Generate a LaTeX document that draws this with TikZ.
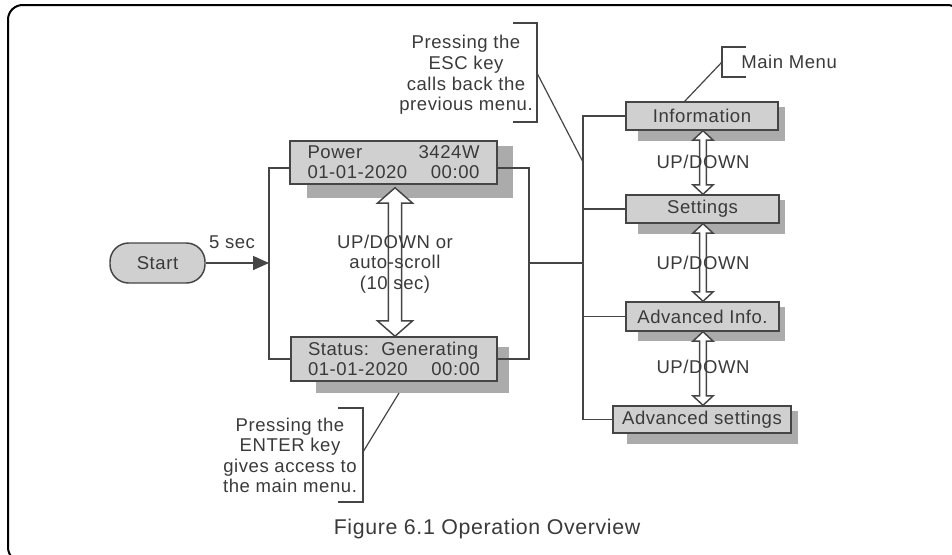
\documentclass[tikz,border=0pt]{standalone}
\usepackage{fontspec}
\setmainfont{Liberation Sans}[LetterSpace=3]
\usetikzlibrary{calc,arrows.meta}
\definecolor{ink}{HTML}{3A3A3A}
\definecolor{lin}{HTML}{454545}
\definecolor{boxfill}{HTML}{D0D0D0}
\definecolor{shadowc}{HTML}{ABABAB}
\tikzset{
  conn/.style={draw=lin, line width=1.1pt},
  menubox/.style={draw=lin, line width=1.1pt, fill=boxfill, text=ink, inner sep=0pt, font=\fontsize{13.9}{15}\selectfont},
  shade/.style={fill=shadowc, draw=none},
  lbl/.style={text=ink, inner sep=0pt, font=\fontsize{13.9}{15.4}\selectfont, align=center},
  dbl/.style={draw=lin, line width=1.1pt, fill=white, line join=miter},
}
% double-headed hollow arrow: #1 top point, #2 bottom point, #3 shaft half, #4 head half, #5 head length
\newcommand{\dblarrow}[5]{%
  \path[dbl] let \p1=#1, \p2=#2 in
   (\x1,\y1) -- (\x1+#4,\y1-#5) -- (\x1+#3,\y1-#5) -- (\x1+#3,\y2+#5) -- (\x1+#4,\y2+#5)
   -- (\x1,\y2) -- (\x1-#4,\y2+#5) -- (\x1-#3,\y2+#5) -- (\x1-#3,\y1-#5) -- (\x1-#4,\y1-#5) -- cycle;}
\begin{document}
\begin{tikzpicture}[x=0.75pt,y=-0.75pt]
\useasboundingbox (0,0) rectangle (952,554);
% frame
\draw[black, line width=1.5pt, rounded corners=11pt] (8,5) rectangle (962,562);

% display boxes (positions)
\coordinate (pwc) at (393.5,162.5);
\coordinate (stc) at (394,359);
% shadows first
\path[shade] ($(pwc)+(-86.5,-16.5)$) rectangle ($(pwc)+(119.5,35.5)$);
\path[shade] ($(stc)+(-78,-12)$) rectangle ($(stc)+(115,34)$);
\path[shade] (638,107) rectangle (785,141);
\path[shade] (638,200) rectangle (785,234);
\path[shade] (638,307) rectangle (785,341);
\path[shade] (627,411) rectangle (798,444);

\node[menubox, minimum width=155.25pt, minimum height=32.25pt, text width=129pt, align=left] (pw) at (pwc)
  {Power\hfill 3424W\\01-01-2020\hfill 00:00};
\node[menubox, minimum width=154.5pt, minimum height=33pt, text width=129pt, align=left] (st) at (stc)
  {Status:\ \ Generating\\01-01-2020\hfill 00:00};

\node[menubox, minimum width=114pt, minimum height=21pt] (info) at (702,116) {Information};
\node[menubox, minimum width=114.75pt, minimum height=21pt] (set) at (702.5,209) {Settings};
\node[menubox, minimum width=114.75pt, minimum height=21.75pt] (ainfo) at (702.5,316.5) {Advanced Info.};
\node[menubox, minimum width=133.5pt, minimum height=20.25pt] (aset) at (702,419.5) {Advanced settings};

% start
\node[menubox, minimum width=71.25pt, minimum height=30pt, rounded corners=14pt] (start) at (157.5,263) {Start};
\coordinate (j1) at (269,263);
\draw[conn, -{Triangle[length=12pt,width=10.5pt]}, draw=lin, fill=lin] (start) -- (j1);
\node[lbl] (fivesec) at (232,242) {5 sec};

% left bracket
\draw[conn] ([yshift=-4pt]pw.west) -| (j1) |- (st.west);
% right junction
\coordinate (rj) at (529,263);
\coordinate (mj) at (583,263);
\draw[conn] ([yshift=-4pt]pw.east) -| (rj) |- (st.east);
\draw[conn] (rj) -- (mj);
% menu bus
\draw[conn] (info.west) -- (info.west -| mj) -- (aset.west -| mj) -- (aset.west);
\draw[conn] (set.west -| mj) -- (set.west);
\draw[conn] (ainfo.west -| mj) -- (ainfo.west);

% big double arrow
\dblarrow{($(pw.south)+(1.5,3)$)}{($(st.north)+(1,0)$)}{4.9pt}{13.1pt}{11.5pt}
\node[lbl] (updown0) at (395,264) {UP/DOWN or\\auto-scroll\\(10 sec)};

% small double arrows
\dblarrow{($(info.south)+(1,0)$)}{($(set.north)+(0.5,0)$)}{2.6pt}{7.5pt}{7pt}
\dblarrow{($(set.south)+(0.5,0)$)}{($(ainfo.north)+(0.5,0)$)}{2.6pt}{7.5pt}{7pt}
\dblarrow{($(ainfo.south)+(0.5,0)$)}{($(aset.north)+(1,0)$)}{2.6pt}{7.5pt}{7pt}
\node[lbl] (ud1) at (703,162) {UP/DOWN};
\node[lbl] (ud2) at (703,263) {UP/DOWN};
\node[lbl] (ud3) at (703,367) {UP/DOWN};

% ESC callout
\node[lbl] (esc) at (466,75) {Pressing the\\ESC key\\calls back the\\previous menu.};
\draw[conn, line width=0.9pt] (513,23) -- (537,23) coordinate (escb1) -- (537,122) -- (513,122);
\coordinate (escb) at (537,73);
\coordinate (escp) at (583,162);
\draw[conn, line width=0.9pt] (escb) -- (escp);

% Main menu callout
\node[lbl, anchor=west] (mm) at (741,62) {Main Menu};
\draw[conn, line width=0.9pt] (746,47) -- (722,47) -- (722,77) -- (746,77);
\coordinate (mmb) at (722,62);
\draw[conn, line width=0.9pt] (mmb) -- (684,102);

% ENTER callout
\node[lbl] (enter) at (290,455.5) {Pressing the\\ENTER key\\gives access to\\the main menu.};
\draw[conn, line width=0.9pt] (338,408) -- (363,408) -- (363,502) -- (338,502);
\coordinate (entb) at (363,452);
\coordinate (entp) at (399,393);
\draw[conn, line width=0.9pt] (entb) -- (entp);

% caption
\node[lbl, font=\fontsize{16}{18}\selectfont] (cap) at (487,529) {Figure 6.1 Operation Overview};
\end{tikzpicture}
\end{document}
